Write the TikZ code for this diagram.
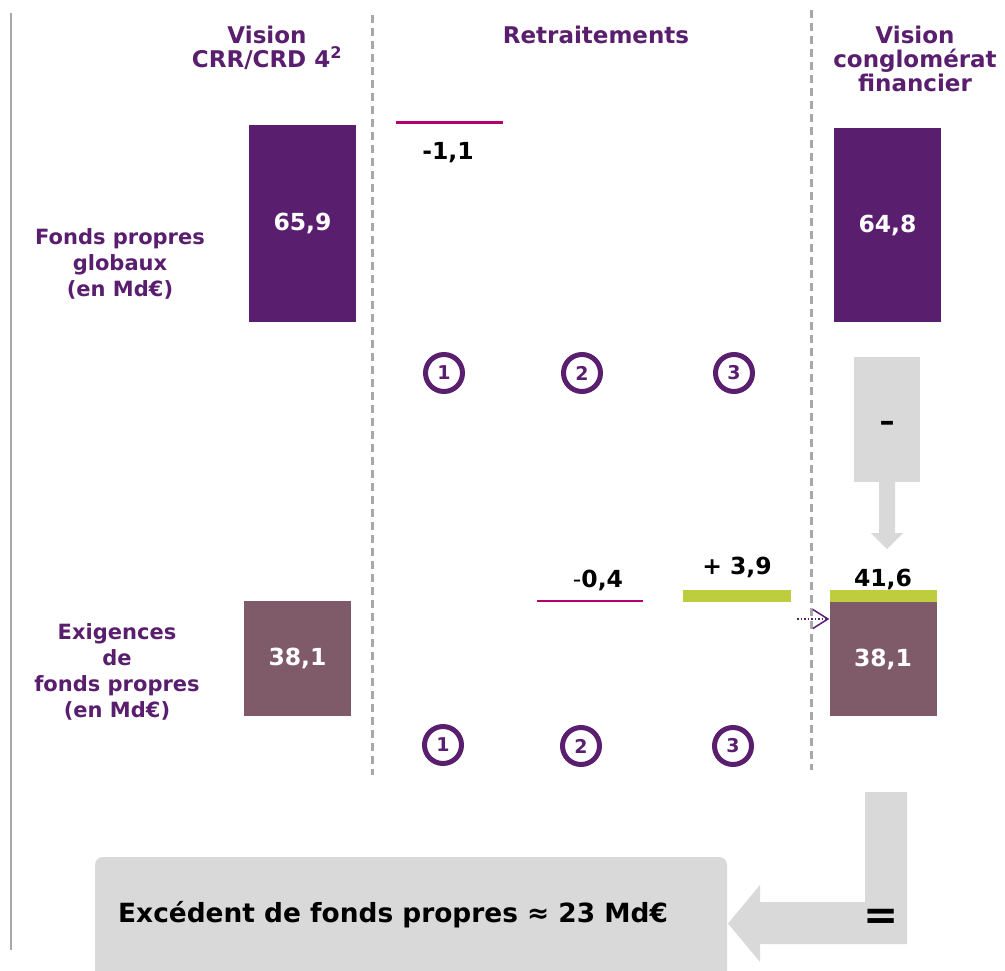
\documentclass[tikz,border=0pt]{standalone}
\usepackage{fontspec}
\setmainfont{DejaVu Sans}
\usepackage{tikz}
\usetikzlibrary{arrows.meta}

\definecolor{cfviolet}{HTML}{5A1E6E}
\definecolor{cfmauve}{HTML}{7F5B69}
\definecolor{cfmagenta}{HTML}{B4006E}
\definecolor{cfgreen}{HTML}{BDCD3E}
\definecolor{cfgrey}{HTML}{D9D9D9}
\definecolor{cfline}{HTML}{A8A8A8}

\begin{document}
\begin{tikzpicture}[x=1pt,y=-1pt,
	every node/.style={font=\bfseries},
	head/.style={text=cfviolet, align=center, inner sep=0pt, font=\bfseries\fontsize{23}{24}\selectfont},
	side/.style={text=cfviolet, align=center, inner sep=0pt, font=\bfseries\fontsize{21}{26}\selectfont},
	val/.style={inner sep=0pt, font=\bfseries\fontsize{23.5}{24}\selectfont},
	bar/.style={minimum width=107pt, inner sep=0pt, text=white, font=\bfseries\fontsize{23.5}{24}\selectfont},
	num/.style={shape=circle, draw=cfviolet, line width=5pt, minimum size=37pt, inner sep=0pt, text=cfviolet, font=\bfseries\fontsize{19}{19}\selectfont},
	sep/.style={draw=cfline, line width=3pt, dash pattern=on 8pt off 5pt}]
	
	\useasboundingbox (0,0) rectangle (1005,971);
	
	\draw[cfline, line width=2.5pt] (11,13) -- (11,950);
	\draw[sep] (372,15) -- (372,775);
	\draw[sep] (811,10) -- (811,770);
	
	\node[head, anchor=north] (h1) at (267,26)  {Vision\\CRR/CRD 4\textsuperscript{2}};
	\node[head, anchor=north] (h2) at (596,26)  {Retraitements};
	\node[head, anchor=north] (h3) at (915,26)  {Vision\\conglomérat\\financier};
	
	\node[side] (fpg) at (120,264) {Fonds propres\\globaux\\(en Md€)};
	\node[side] (exg) at (117,672) {Exigences\\de\\fonds propres\\(en Md€)};
	
	\node[bar, fill=cfviolet, minimum height=197pt] (fp1) at (302.5,223.5) {65,9};
	\node[bar, fill=cfviolet, minimum height=194pt] (fp2) at (887.5,225)   {64,8};
	\node[bar, fill=cfmauve, minimum height=115pt]  (ex1) at (297.5,658.5) {38,1};
	\node[bar, fill=cfmauve, minimum height=114pt]  (ex2) at (883,659)     {38,1};
	\node[bar, fill=cfgreen, minimum height=12pt, anchor=south] (g2) at (ex2.north) {};
	
	\node[fill=cfmagenta, minimum width=107pt, minimum height=3.5pt, inner sep=0pt] (r1) at (449.5,122.5) {};
	\node[fill=cfmagenta, minimum width=106pt, minimum height=2pt, inner sep=0pt]   (r2) at (590,601)     {};
	\node[fill=cfgreen, minimum width=108pt, minimum height=12pt, inner sep=0pt]    (r3) at (737,596)     {};
	
	\node[val] (v1) at (448,153) {-1,1};
	\node[val] (v2) at (598,580) {{\mdseries -}0,4};
	\node[val] (v3) at (737,567) {+ 3,9};
	\node[val] (v4) at (883,579) {41,6};
	
	\node[num] (a1) at (444,373) {1};
	\node[num] (a2) at (582,373) {2};
	\node[num] (a3) at (734,373) {3};
	\node[num] (b1) at (443,745) {1};
	\node[num] (b2) at (581,746) {2};
	\node[num] (b3) at (733,746) {3};
	
	\node[fill=cfgrey, minimum width=66pt, minimum height=125pt, inner sep=0pt, font=\bfseries\fontsize{30}{30}\selectfont] (moins) at (887,419.5) {\raisebox{-11.5pt}[0pt][0pt]{–}};
	\fill[cfgrey] (moins.south) ++(-8,0) -- ++(16,0) -- ++(0,51) -- ++(8,0) -- ++(-16,16) -- ++(-16,-16) -- ++(8,0) -- cycle;
	
	\coordinate (dots) at (797,619);
	\draw[cfviolet, line width=1.5pt, dash pattern=on 1.5pt off 2pt, -{Straight Barb[length=15pt,width=19pt]}] (dots) -- (ex2.west |- dots);
	
	\fill[cfgrey, rounded corners=8pt] (95,857) rectangle (727,995);
	\fill[cfgrey] (865,792) -- (907,792) -- (907,944) -- (760,944) -- (760,962) -- (728,923.5) -- (760,885) -- (760,902) -- (865,902) -- cycle;
	
	\node[anchor=west, inner sep=0pt, font=\bfseries\fontsize{26.4}{26}\selectfont] (excedent) at (118,915) {Excédent de fonds propres ≈ 23 Md€};
	\node[font=\bfseries\fontsize{42}{42}\selectfont] (egal) at (881,919) {=};

\end{tikzpicture}
\end{document}
